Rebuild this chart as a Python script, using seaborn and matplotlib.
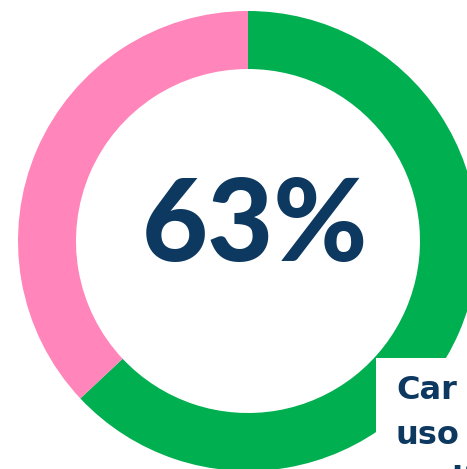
import matplotlib.pyplot as plt
import matplotlib.patches as mpatches
import seaborn as sns

# share of the donut
labels = ['Sí', 'No']
values = [63, 37]
colors = ['#00AF50', '#FF85BB']
center_label = '63%'
side_lines = ['Car', 'uso', 'muito']

sns.set_theme(style='white')
plt.rcParams['font.family'] = ['Lato', 'DejaVu Sans']

W, H = 467, 469
fig = plt.figure(figsize=(W / 100, H / 100), dpi=100)
ax = fig.add_axes([0, 0, 1, 1])

# donut, green clockwise from the top
ax.pie(values, colors=colors, startangle=90, counterclock=False,
       center=(248, H - 241), radius=230,
       wedgeprops=dict(width=58, linewidth=0))
ax.set_xlim(0, W)
ax.set_ylim(0, H)
ax.set_aspect('equal')
ax.axis('off')

ax.text(255, H - 228, center_label, ha='center', va='center',
        fontsize=82, fontweight='black', color='#0D3860')

# white label card in the corner
ax.add_patch(mpatches.Rectangle((376, 0), W - 376, H - 358,
                                facecolor='white', edgecolor='none',
                                zorder=5))
for i, line in enumerate(side_lines):
    ax.text(396, H - 399 - 45 * i, line, ha='left', va='baseline',
            fontsize=23, fontweight='bold', color='#0D3860', zorder=6,
            family=['DejaVu Sans'])

plt.savefig('out.png', dpi=100)
